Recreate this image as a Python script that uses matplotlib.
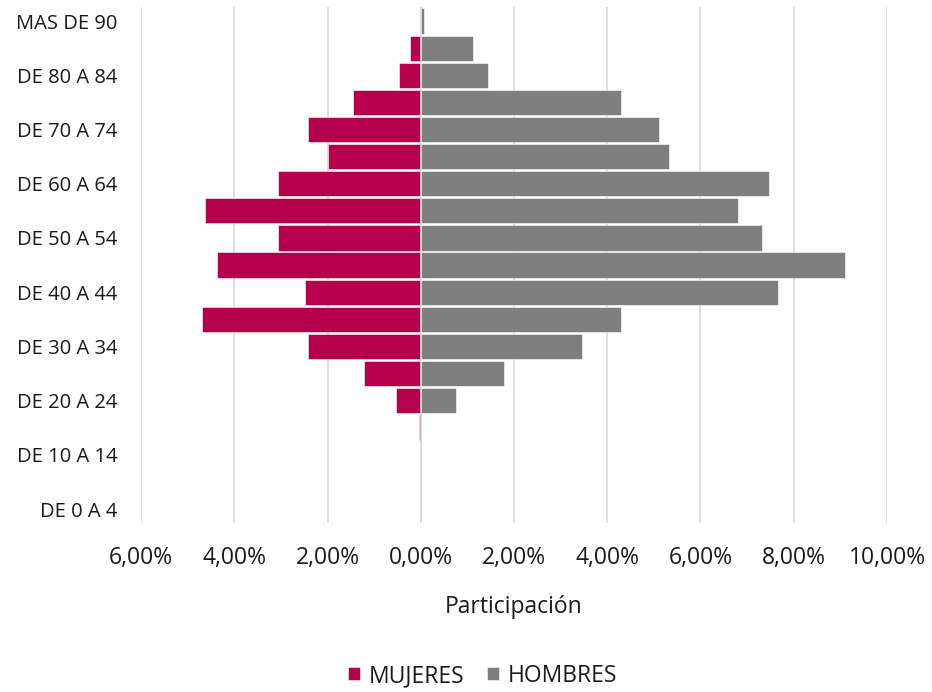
import matplotlib.pyplot as plt
import numpy as np
from matplotlib.ticker import FuncFormatter

plt.rcParams['font.family'] = ['Open Sans', 'DejaVu Sans']

# age groups, youngest first
grupos = ['DE 0 A 4', 'DE 5 A 9', 'DE 10 A 14', 'DE 15 A 19', 'DE 20 A 24',
          'DE 25 A 29', 'DE 30 A 34', 'DE 35 A 39', 'DE 40 A 44', 'DE 45 A 49',
          'DE 50 A 54', 'DE 55 A 59', 'DE 60 A 64', 'DE 65 A 69', 'DE 70 A 74',
          'DE 75 A 79', 'DE 80 A 84', 'DE 85 A 89', 'MAS DE 90']

# participation in %
mujeres = [0.0, 0.0, 0.0, 0.03, 0.54, 1.21, 2.41, 4.69, 2.49, 4.38,
           3.07, 4.63, 3.06, 1.99, 2.42, 1.46, 0.47, 0.24, 0.0]
hombres = [0.0, 0.0, 0.0, 0.0, 0.76, 1.78, 3.45, 4.30, 7.67, 9.11,
           7.31, 6.80, 7.48, 5.32, 5.10, 4.30, 1.45, 1.13, 0.07]

x_ticks = [-6, -4, -2, 0, 2, 4, 6, 8, 10]

col_muj = '#b5004b'
col_hom = '#7f7f7f'
txt = '#1a1a1a'

fig = plt.figure(figsize=(9.32, 6.92), dpi=100)
ax = fig.add_axes([0.1513, 0.2448, 0.8004, 0.7444])

y = np.arange(len(grupos))
ax.barh(y, -np.array(mujeres), height=0.93, color=col_muj, edgecolor='white',
        linewidth=0.4, label='MUJERES', zorder=2)
ax.barh(y, hombres, height=0.93, color=col_hom, edgecolor='white',
        linewidth=0.4, label='HOMBRES', zorder=2)
ax.axvline(0, color='#d9d9d9', lw=1.2, zorder=3)

ax.set_xlim(-6, 10)
ax.set_ylim(-0.5, len(grupos) - 0.5)
ax.set_xticks(x_ticks)
ax.xaxis.set_major_formatter(FuncFormatter(
    lambda v, p: f'{abs(v):.2f}%'.replace('.', ',')))
ax.set_yticks(y[::2])
ax.set_yticklabels(grupos[::2])

ax.grid(axis='x', color='#d9d9d9', lw=1.2, zorder=0)
ax.set_axisbelow(True)
for s in ax.spines.values():
    s.set_visible(False)
ax.tick_params(axis='both', length=0, colors=txt)
ax.tick_params(axis='x', pad=17, labelsize=16.5)
ax.tick_params(axis='y', pad=17, labelsize=14.5)

ax.set_xlabel('Participación', fontsize=16.5, color=txt, labelpad=18)

fig.legend(loc='lower center', bbox_to_anchor=(0.518, -0.024), ncol=2, frameon=False,
           fontsize=16.5, handlelength=0.5, handleheight=0.5, handletextpad=0.4,
           columnspacing=1.0, labelcolor=txt)

fig.savefig('out.png', dpi=100)
